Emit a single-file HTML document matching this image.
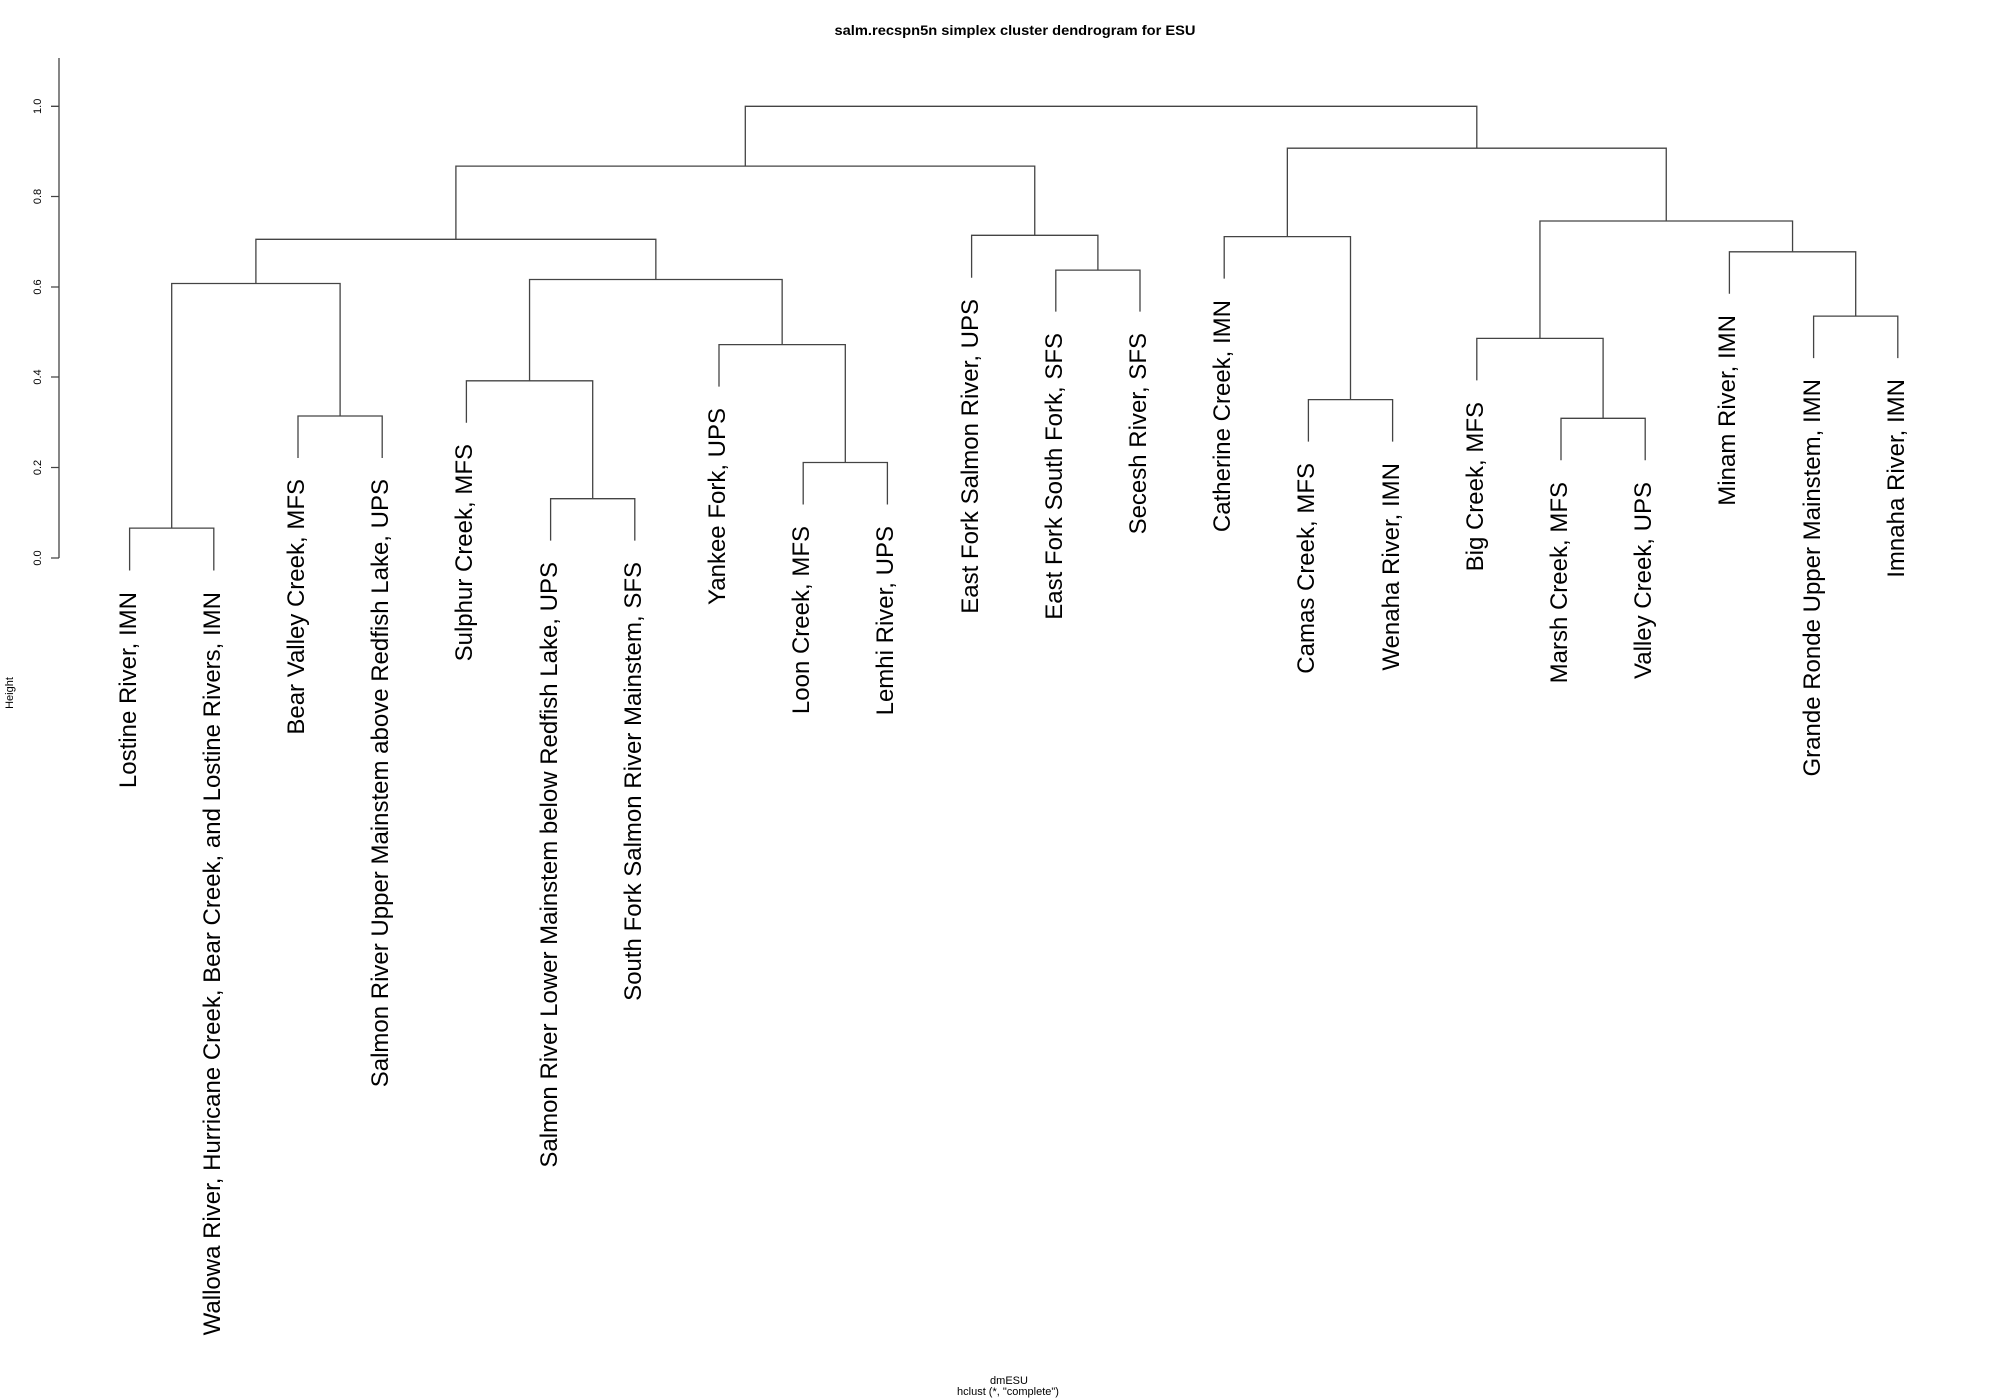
<!DOCTYPE html>
<html><head><meta charset="utf-8"><style>
html,body{margin:0;padding:0;background:#fff;}
svg{display:block;}
text{font-family:"Liberation Sans",Arial,sans-serif;fill:#000;}
</style></head><body>
<svg width="2000" height="1400" viewBox="0 0 2000 1400" xmlns="http://www.w3.org/2000/svg">
<text x="1015" y="35" font-size="14" font-weight="bold" text-anchor="middle" textLength="361" lengthAdjust="spacingAndGlyphs">salm.recspn5n  simplex cluster dendrogram for ESU</text>
<g stroke="#444" stroke-width="1.3" fill="none">
<path d="M59 558V58"/>
<path d="M51 558H59M51 467.5H59M51 377H59M51 287H59M51 196.5H59M51 106.3H59"/>
<path d="M129.6 570.5V528.1H213.8V570.5"/>
<path d="M298 458V416H382.2V458"/>
<path d="M171.7 528.1V283.5H340.1V416"/>
<path d="M550.6 540.6V498.7H634.8V540.6"/>
<path d="M466.4 422.8V380.8H592.7V498.7"/>
<path d="M803.2 504.5V462.5H887.4V504.5"/>
<path d="M719 386.6V344.6H845.3V462.5"/>
<path d="M529.55 380.8V279.5H782.15V344.6"/>
<path d="M255.9 283.5V239.3H655.85V279.5"/>
<path d="M1055.8 311.6V270.1H1140V311.6"/>
<path d="M971.6 277.7V235.3H1097.9V270.1"/>
<path d="M455.9 239.3V166.1H1034.75V235.3"/>
<path d="M1308.4 441.6V399.6H1392.6V441.6"/>
<path d="M1224.2 278.6V236.6H1350.5V399.6"/>
<path d="M1561 460.3V418.3H1645.2V460.3"/>
<path d="M1476.8 380.4V338.4H1603.1V418.3"/>
<path d="M1813.6 358.1V316.1H1897.8V358.1"/>
<path d="M1729.4 293.8V251.8H1855.7V316.1"/>
<path d="M1539.95 338.4V221H1792.55V251.8"/>
<path d="M1287.35 236.6V148.2H1666.25V221"/>
<path d="M745.3 166.1V106.3H1476.8V148.2"/>
</g>
<g font-size="11" text-anchor="middle">
<text transform="translate(41 558) rotate(-90)">0.0</text>
<text transform="translate(41 467.5) rotate(-90)">0.2</text>
<text transform="translate(41 377) rotate(-90)">0.4</text>
<text transform="translate(41 287) rotate(-90)">0.6</text>
<text transform="translate(41 196.5) rotate(-90)">0.8</text>
<text transform="translate(41 106.3) rotate(-90)">1.0</text>
<text transform="translate(13 693) rotate(-90)">Height</text>
<text x="1009" y="1384">dmESU</text>
<text x="1008" y="1395">hclust (*, "complete")</text>
</g>
<g font-size="24" text-anchor="end">
<text transform="translate(136 592) rotate(-90)">Lostine River, IMN</text>
<text transform="translate(220 592) rotate(-90)">Wallowa River, Hurricane Creek, Bear Creek, and Lostine Rivers, IMN</text>
<text transform="translate(304 479) rotate(-90)">Bear Valley Creek, MFS</text>
<text transform="translate(388 479) rotate(-90)">Salmon River Upper Mainstem above Redfish Lake, UPS</text>
<text transform="translate(472 444) rotate(-90)">Sulphur Creek, MFS</text>
<text transform="translate(557 562) rotate(-90)">Salmon River Lower Mainstem below Redfish Lake, UPS</text>
<text transform="translate(641 562) rotate(-90)">South Fork Salmon River Mainstem, SFS</text>
<text transform="translate(725 408) rotate(-90)">Yankee Fork, UPS</text>
<text transform="translate(809 526) rotate(-90)">Loon Creek, MFS</text>
<text transform="translate(893 526) rotate(-90)">Lemhi River, UPS</text>
<text transform="translate(978 299) rotate(-90)">East Fork Salmon River, UPS</text>
<text transform="translate(1062 333) rotate(-90)">East Fork South Fork, SFS</text>
<text transform="translate(1146 333) rotate(-90)">Secesh River, SFS</text>
<text transform="translate(1230 300) rotate(-90)">Catherine Creek, IMN</text>
<text transform="translate(1314 463) rotate(-90)">Camas Creek, MFS</text>
<text transform="translate(1399 463) rotate(-90)">Wenaha River, IMN</text>
<text transform="translate(1483 402) rotate(-90)">Big Creek, MFS</text>
<text transform="translate(1567 482) rotate(-90)">Marsh Creek, MFS</text>
<text transform="translate(1651 482) rotate(-90)">Valley Creek, UPS</text>
<text transform="translate(1735 315) rotate(-90)">Minam River, IMN</text>
<text transform="translate(1820 379) rotate(-90)">Grande Ronde Upper Mainstem, IMN</text>
<text transform="translate(1904 379) rotate(-90)">Imnaha River, IMN</text>
</g>
</svg>
</body></html>
